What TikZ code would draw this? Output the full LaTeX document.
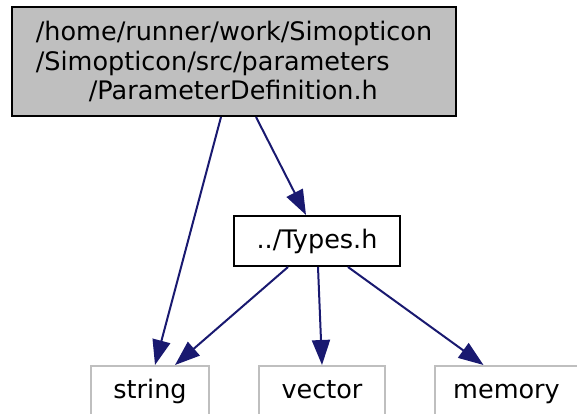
\documentclass[tikz,border=0pt]{standalone}
\usepackage{fontspec}
\setmainfont{DejaVu Sans}
\usepackage{tikz}
\usetikzlibrary{arrows.meta,positioning}

\definecolor{edgeblue}{HTML}{191970}
\definecolor{boxgray}{HTML}{BFBFBF}

\begin{document}
\begin{tikzpicture}[
    x=1pt, y=-1pt,
    node distance=98pt and 48pt,
    every node/.style={font=\fontsize{25.5}{29.5}\selectfont, inner sep=0pt, align=center},
    mainbox/.style={rectangle, draw=black, fill=boxgray, line width=2pt, minimum width=444pt, minimum height=109pt, align=left},
    filebox/.style={rectangle, draw=black, fill=white, line width=2pt, minimum height=50pt, text height=19pt, text depth=5pt},
    sysbox/.style={rectangle, draw=boxgray, fill=white, line width=2pt, minimum height=50pt, text height=19pt, text depth=5pt},
    arrow/.style={-{Triangle[length=25pt,width=18pt]}, draw=edgeblue, fill=edgeblue, line width=2pt}
]
    \useasboundingbox (0,0) rectangle (577,413);

    % File being documented
    \node[mainbox] (paramdef) at (234,61.5) {/home/runner/work/Simopticon\\/Simopticon/src/parameters\\\hspace*{53pt}/ParameterDefinition.h};

    % Project include
    \node[filebox, minimum width=166pt, below=of paramdef, xshift=83pt] (types) {../Types.h};

    % System headers
    \node[sysbox, minimum width=126pt, below=98pt of types, xshift=5pt] (vector) {vector};
    \node[sysbox, minimum width=118pt, left=of vector] (string) {string};
    \node[sysbox, minimum width=143pt, right=of vector] (memory) {memory};

    % Includes
    \draw[arrow] ([xshift=-13pt]paramdef.south) -- ([xshift=5pt]string.north);
    \draw[arrow] ([xshift=22pt]paramdef.south) -- ([xshift=-11pt]types.north);
    \draw[arrow] ([xshift=-29pt]types.south) -- ([xshift=25pt]string.north);
    \draw[arrow] ([xshift=1pt]types.south) -- (vector.north);
    \draw[arrow] ([xshift=31pt]types.south) -- ([xshift=-23pt]memory.north);
\end{tikzpicture}
\end{document}
